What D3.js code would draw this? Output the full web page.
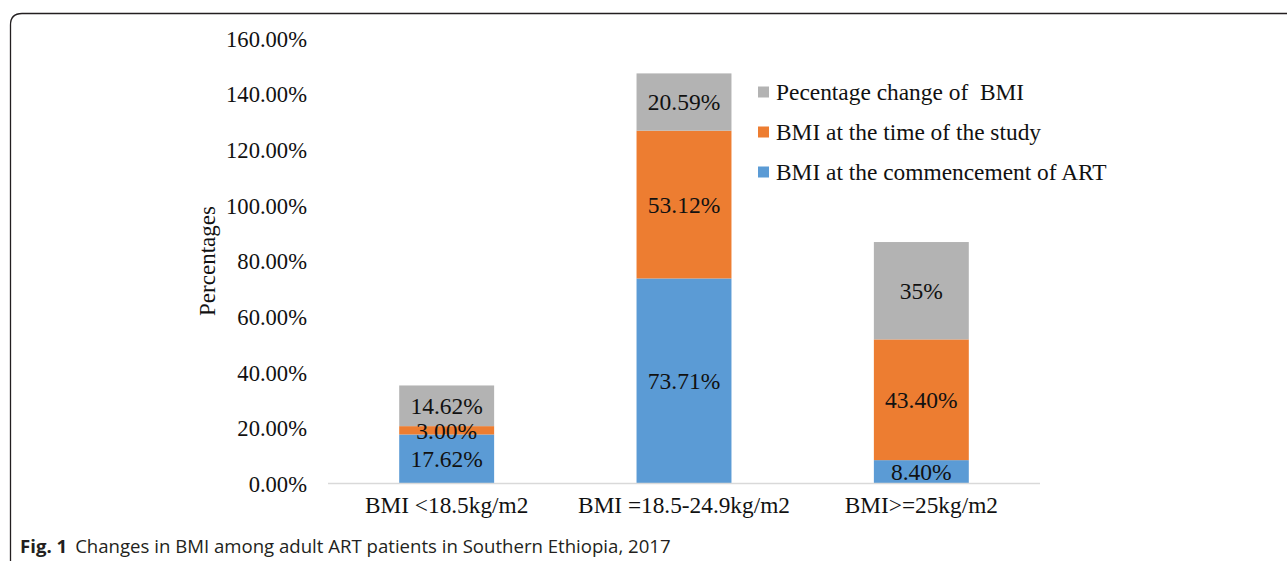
<!DOCTYPE html>
<html><head><meta charset="utf-8">
<script src="https://cdn.jsdelivr.net/npm/d3@7"></script>
<style>
html,body{margin:0;padding:0;background:#fff;}
svg{display:block;}
</style></head>
<body>
<svg id="chart" width="1287" height="561"></svg>
<script>
const categories = ["BMI <18.5kg/m2", "BMI =18.5-24.9kg/m2", "BMI>=25kg/m2"];
const seriesNames = ["BMI at the commencement of ART", "BMI at the time of the study", "Pecentage change of  BMI"];
const commencement = [17.62, 73.71, 8.40];
const timeOfStudy = [3.00, 53.12, 43.40];
const pctChange = [14.62, 20.59, 35];
const commencementLabels = ["17.62%", "73.71%", "8.40%"];
const timeOfStudyLabels = ["3.00%", "53.12%", "43.40%"];
const pctChangeLabels = ["14.62%", "20.59%", "35%"];
const yTicks = [0, 20, 40, 60, 80, 100, 120, 140, 160];
const colors = ["#5B9BD5", "#ED7D31", "#B3B3B3"];

const svg = d3.select("#chart");
const serif = "'Liberation Serif', 'Times New Roman', serif";

// figure frame with rounded corner
svg.append("path")
  .attr("d", "M10.5,561 L10.5,25 Q10.5,13.5 22,13.5 L1287,13.5")
  .attr("fill", "none").attr("stroke", "#231f20").attr("stroke-width", 1.3);

const x = d3.scaleBand().domain(categories).range([328, 1040]).paddingInner(0.6).paddingOuter(0.3);
const y = d3.scaleLinear().domain([0, 160]).range([483.5, 38.4]);

const data = categories.map((c, i) => ({cat: c, v: [commencement[i], timeOfStudy[i], pctChange[i]],
  l: [commencementLabels[i], timeOfStudyLabels[i], pctChangeLabels[i]]}));

// bars
data.forEach(d => {
  let base = 0;
  d.v.forEach((v, s) => {
    svg.append("rect")
      .attr("x", x(d.cat)).attr("width", x.bandwidth())
      .attr("y", y(base + v)).attr("height", y(base) - y(base + v))
      .attr("fill", colors[s]);
    base += v;
  });
});
// labels
data.forEach(d => {
  let base = 0;
  d.v.forEach((v, s) => {
    svg.append("text")
      .attr("x", x(d.cat) + x.bandwidth() / 2)
      .attr("y", y(base + v / 2))
      .attr("dy", "0.35em")
      .attr("text-anchor", "middle")
      .attr("font-family", serif).attr("font-size", 23.5).attr("fill", "#111")
      .text(d.l[s]);
    base += v;
  });
});

// axis line
svg.append("line").attr("x1", 328).attr("x2", 1040).attr("y1", y(0)).attr("y2", y(0))
  .attr("stroke", "#d9d9d9").attr("stroke-width", 1.5);

// y tick labels
const yAxis = d3.axisLeft(y).tickValues(yTicks).tickSize(0).tickPadding(0)
  .tickFormat(d => d.toFixed(2) + "%");
const ya = svg.append("g").attr("transform", "translate(307,0)").call(yAxis);
ya.select(".domain").remove();
ya.selectAll("text").attr("font-family", serif).attr("font-size", 22.6).attr("fill", "#111").attr("dy", "0.35em");

// x labels
const xAxis = d3.axisBottom(x).tickSize(0).tickPadding(0);
const xa = svg.append("g").attr("transform", `translate(0,${y(0) + 29})`).call(xAxis);
xa.select(".domain").remove();
xa.selectAll("text").attr("font-family", serif).attr("font-size", 23.3).attr("fill", "#111").attr("dy", "0");

// y title
svg.append("text").attr("transform", "translate(215,261) rotate(-90)")
  .attr("text-anchor", "middle").attr("font-family", serif).attr("font-size", 23).attr("fill", "#111")
  .text("Percentages");

// legend
const legendOrder = [2, 1, 0];
legendOrder.forEach((s, i) => {
  const cy = 92 + i * 40;
  svg.append("rect").attr("x", 758).attr("y", cy - 5.5).attr("width", 11).attr("height", 11).attr("fill", colors[s]);
  svg.append("text").attr("x", 776).attr("y", cy).attr("dy", "0.35em")
    .attr("font-family", serif).attr("font-size", 23.4).attr("fill", "#111")
    .attr("xml:space", "preserve").style("white-space", "pre")
    .text(seriesNames[s]);
});

// caption
const cap = svg.append("text").attr("x", 20).attr("y", 553)
  .attr("font-family", "'Open Sans', 'Noto Sans', sans-serif").attr("font-size", 18.6).attr("fill", "#231f20");
cap.append("tspan").attr("font-weight", "bold").text("Fig. 1");
cap.append("tspan").attr("dx", 8).text("Changes in BMI among adult ART patients in Southern Ethiopia, 2017");
</script>
</body></html>
